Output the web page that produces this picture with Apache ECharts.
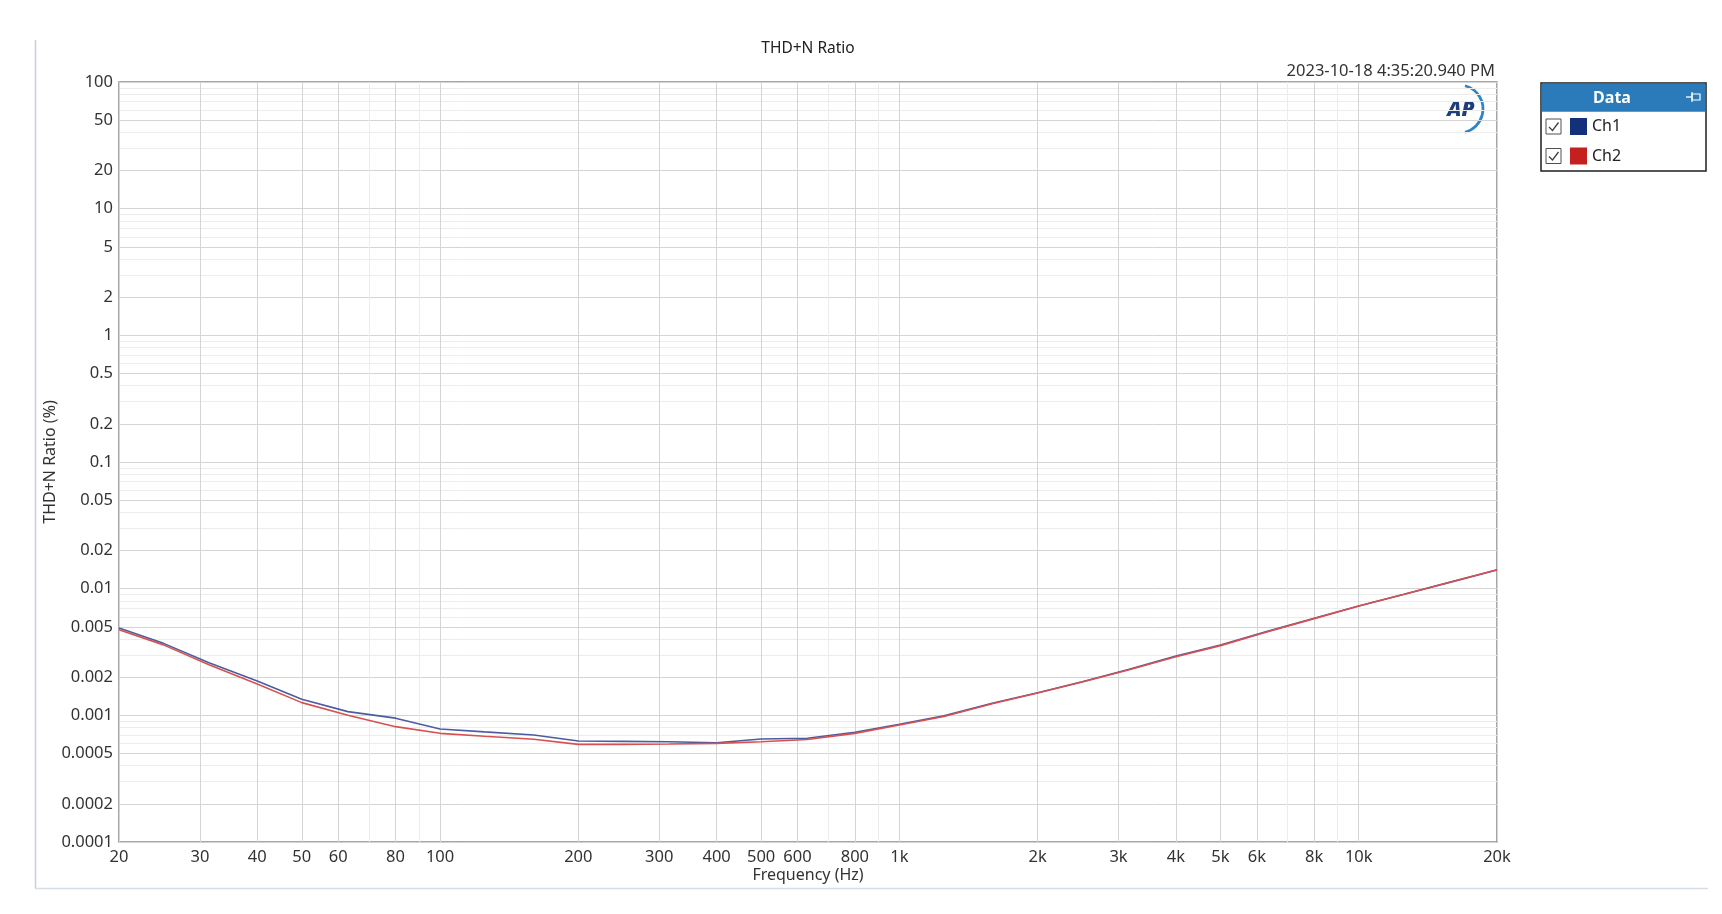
<!DOCTYPE html>
<html><head><meta charset="utf-8">
<script src="https://cdn.jsdelivr.net/npm/echarts@6/dist/echarts.min.js"></script>
<style>html,body{margin:0;padding:0;background:#fff;} #chart{width:1722px;height:914px;}</style>
</head><body><div id="chart"></div>
<script>
const freqs = [20,25,31.5,40,50,63,80,100,125,160,200,250,315,400,500,630,800,1000,1250,1600,2000,2500,3150,4000,5000,6300,8000,10000,12500,16000,20000];
const ch1 = [0.0049,0.0037,0.00259,0.00187,0.00134,0.00107,0.00095,0.00078,0.00074,0.0007,0.000627,0.000623,0.000618,0.000608,0.00065,0.00066,0.000735,0.00085,0.00099,0.00125,0.00151,0.00184,0.0023,0.00294,0.00359,0.00458,0.00583,0.0073,0.009,0.01137,0.01403];
const ch2 = [0.00474,0.0036,0.0025,0.00177,0.00126,0.001,0.000814,0.000721,0.000684,0.000647,0.00059,0.00059,0.000594,0.000601,0.000619,0.000645,0.00072,0.00084,0.00098,0.00124,0.0015,0.00183,0.00228,0.0029,0.00355,0.00455,0.0058,0.0073,0.009,0.0114,0.0141];
const xMajorTicks = [20,30,40,50,60,80,100,200,300,400,500,600,800,1000,2000,3000,4000,5000,6000,8000,10000,20000];
const xMinorTicks = [70,90,700,900,7000,9000];
const yMajorTicks = [0.0001,0.0002,0.0005,0.001,0.002,0.005,0.01,0.02,0.05,0.1,0.2,0.5,1,2,5,10,20,50,100];
const yMinorTicks = [0.0003,0.0004,0.0006,0.0007,0.0008,0.0009,0.003,0.004,0.006,0.007,0.008,0.009,0.03,0.04,0.06,0.07,0.08,0.09,0.3,0.4,0.6,0.7,0.8,0.9,3,4,6,7,8,9,30,40,60,70,80,90];
const seriesNames = ['Ch1','Ch2'];
const titleText = 'THD+N Ratio';
const timestamp = '2023-10-18 4:35:20.940 PM';

const FONT = 'Noto Sans';
const chart = echarts.init(document.getElementById('chart'), null, {renderer:'canvas'});
function xfmt(v){ v = Math.round(v); return v >= 1000 ? (v/1000)+'k' : String(v); }
function yfmt(v){ return String(Number(v.toPrecision(6))); }
const GL = {left:119, top:82, width:1378, height:760};

function checkbox(y){
  return [
    {type:'rect', shape:{x:1546,y:y-8,width:15,height:15}, style:{fill:'#fff',stroke:'#505050',lineWidth:1}, z:10},
    {type:'polyline', shape:{points:[[1549,y],[1552.5,y+3.5],[1558.5,y-4.5]]}, style:{fill:null,stroke:'#404040',lineWidth:1.3}, z:11}
  ];
}

const option = {
  backgroundColor:'#fff',
  animation:false,
  textStyle:{fontFamily:FONT},
  grid:{left:GL.left, top:GL.top, width:GL.width, height:GL.height, show:true, borderColor:'#8a8a8a', borderWidth:1.5, backgroundColor:'transparent', containLabel:false},
  legend:{
    orient:'vertical', left:1570, top:118, itemWidth:17, itemHeight:17, itemGap:12.5, padding:0,
    icon:'rect', selectedMode:false,
    textStyle:{fontSize:16, color:'#222', fontFamily:FONT},
    data:[{name:'Ch1', itemStyle:{color:'#13317a'}},{name:'Ch2', itemStyle:{color:'#c4201f'}}]
  },
  xAxis:[
    {type:'log', logBase:10, min:20, max:20000, gridIndex:0, position:'bottom',
     axisLine:{show:false}, axisTick:{show:false, customValues:xMinorTicks},
     axisLabel:{show:false}, splitLine:{show:true, lineStyle:{color:'#ececec', width:1}}},
    {type:'log', logBase:10, min:20, max:20000, gridIndex:0, position:'bottom',
     name:'Frequency (Hz)', nameLocation:'middle', nameGap:25, nameMoveOverlap:false,
     nameTextStyle:{fontSize:16, color:'#333', fontFamily:FONT},
     axisLine:{show:false}, axisTick:{show:false, customValues:xMajorTicks},
     axisLabel:{show:true, customValues:xMajorTicks, formatter:xfmt, margin:7, fontSize:16.5, color:'#333', fontFamily:FONT, showMinLabel:true, showMaxLabel:true, hideOverlap:false},
     splitLine:{show:true, lineStyle:{color:'#d4d4d4', width:1}}}
  ],
  yAxis:[
    {type:'log', logBase:10, min:0.0001, max:100, gridIndex:0, position:'left',
     axisLine:{show:false}, axisTick:{show:false, customValues:yMinorTicks},
     axisLabel:{show:false}, splitLine:{show:true, lineStyle:{color:'#ececec', width:1}}},
    {type:'log', logBase:10, min:0.0001, max:100, gridIndex:0, position:'left',
     name:'THD+N Ratio (%)', nameLocation:'middle', nameGap:61, nameRotate:90, nameMoveOverlap:false,
     nameTextStyle:{fontSize:16, color:'#333', fontFamily:FONT},
     axisLine:{show:false}, axisTick:{show:false, customValues:yMajorTicks},
     axisLabel:{show:true, customValues:yMajorTicks, formatter:yfmt, margin:6, fontSize:16.5, color:'#333', fontFamily:FONT, showMinLabel:true, showMaxLabel:true, hideOverlap:false},
     splitLine:{show:true, lineStyle:{color:'#d4d4d4', width:1}}}
  ],
  series:[
    {name:seriesNames[0], type:'line', xAxisIndex:1, yAxisIndex:1, showSymbol:false, symbol:'none',
     data:freqs.map((f,i)=>[f,ch1[i]]), color:'#13317a', lineStyle:{color:'#4a5d9f', width:1.6}, z:3},
    {name:seriesNames[1], type:'line', xAxisIndex:1, yAxisIndex:1, showSymbol:false, symbol:'none',
     data:freqs.map((f,i)=>[f,ch2[i]]), color:'#c4201f', lineStyle:{color:'#d8504f', width:1.6}, z:4}
  ],
  graphic:{elements:[
    {type:'line', shape:{x1:35.5,y1:40,x2:35.5,y2:888}, style:{stroke:'#c5d0dc', lineWidth:1.5}},
    {type:'line', shape:{x1:35,y1:888.5,x2:1708,y2:888.5}, style:{stroke:'#d6dde5', lineWidth:1.5}},
    {type:'text', style:{text:titleText, x:808, y:49, align:'center', verticalAlign:'middle', fontSize:15.5, fill:'#222', fontFamily:FONT}},
    {type:'text', style:{text:timestamp, x:1495, y:71, align:'right', verticalAlign:'middle', fontSize:16.5, fill:'#333', fontFamily:FONT}},
    {type:'text', style:{text:'AP', x:1461, y:110, align:'center', verticalAlign:'middle', fontSize:21, fontStyle:'italic', fontWeight:900, fill:'#1d3d7b', fontFamily:FONT}},
    {type:'arc', shape:{cx:1459, cy:109, r:24, startAngle:-Math.PI*0.42, endAngle:Math.PI*0.42}, style:{stroke:'#2e86c6', lineWidth:2.8, fill:null}},
    {type:'rect', shape:{x:1541,y:83,width:165,height:88}, style:{fill:'#fff', stroke:'#1e1e1e', lineWidth:1.5}, z:1},
    {type:'rect', shape:{x:1541.75,y:83.75,width:163.5,height:28}, style:{fill:'#2b7bba'}, z:2},
    {type:'text', style:{text:'Data', x:1612, y:98, align:'center', verticalAlign:'middle', fontSize:16, fontWeight:'bold', fill:'#fff', fontFamily:FONT}, z:3},
    {type:'line', shape:{x1:1686,y1:97,x2:1692,y2:97}, style:{stroke:'#fff', lineWidth:1.3}, z:3},
    {type:'rect', shape:{x:1692,y:94,width:8,height:6}, style:{fill:null, stroke:'#fff', lineWidth:1.2}, z:3},
    {type:'line', shape:{x1:1692,y1:92,x2:1692,y2:102}, style:{stroke:'#fff', lineWidth:1.2}, z:3},
    ...checkbox(127),
    ...checkbox(156.5)
  ]}
};
chart.setOption(option);
</script></body></html>
